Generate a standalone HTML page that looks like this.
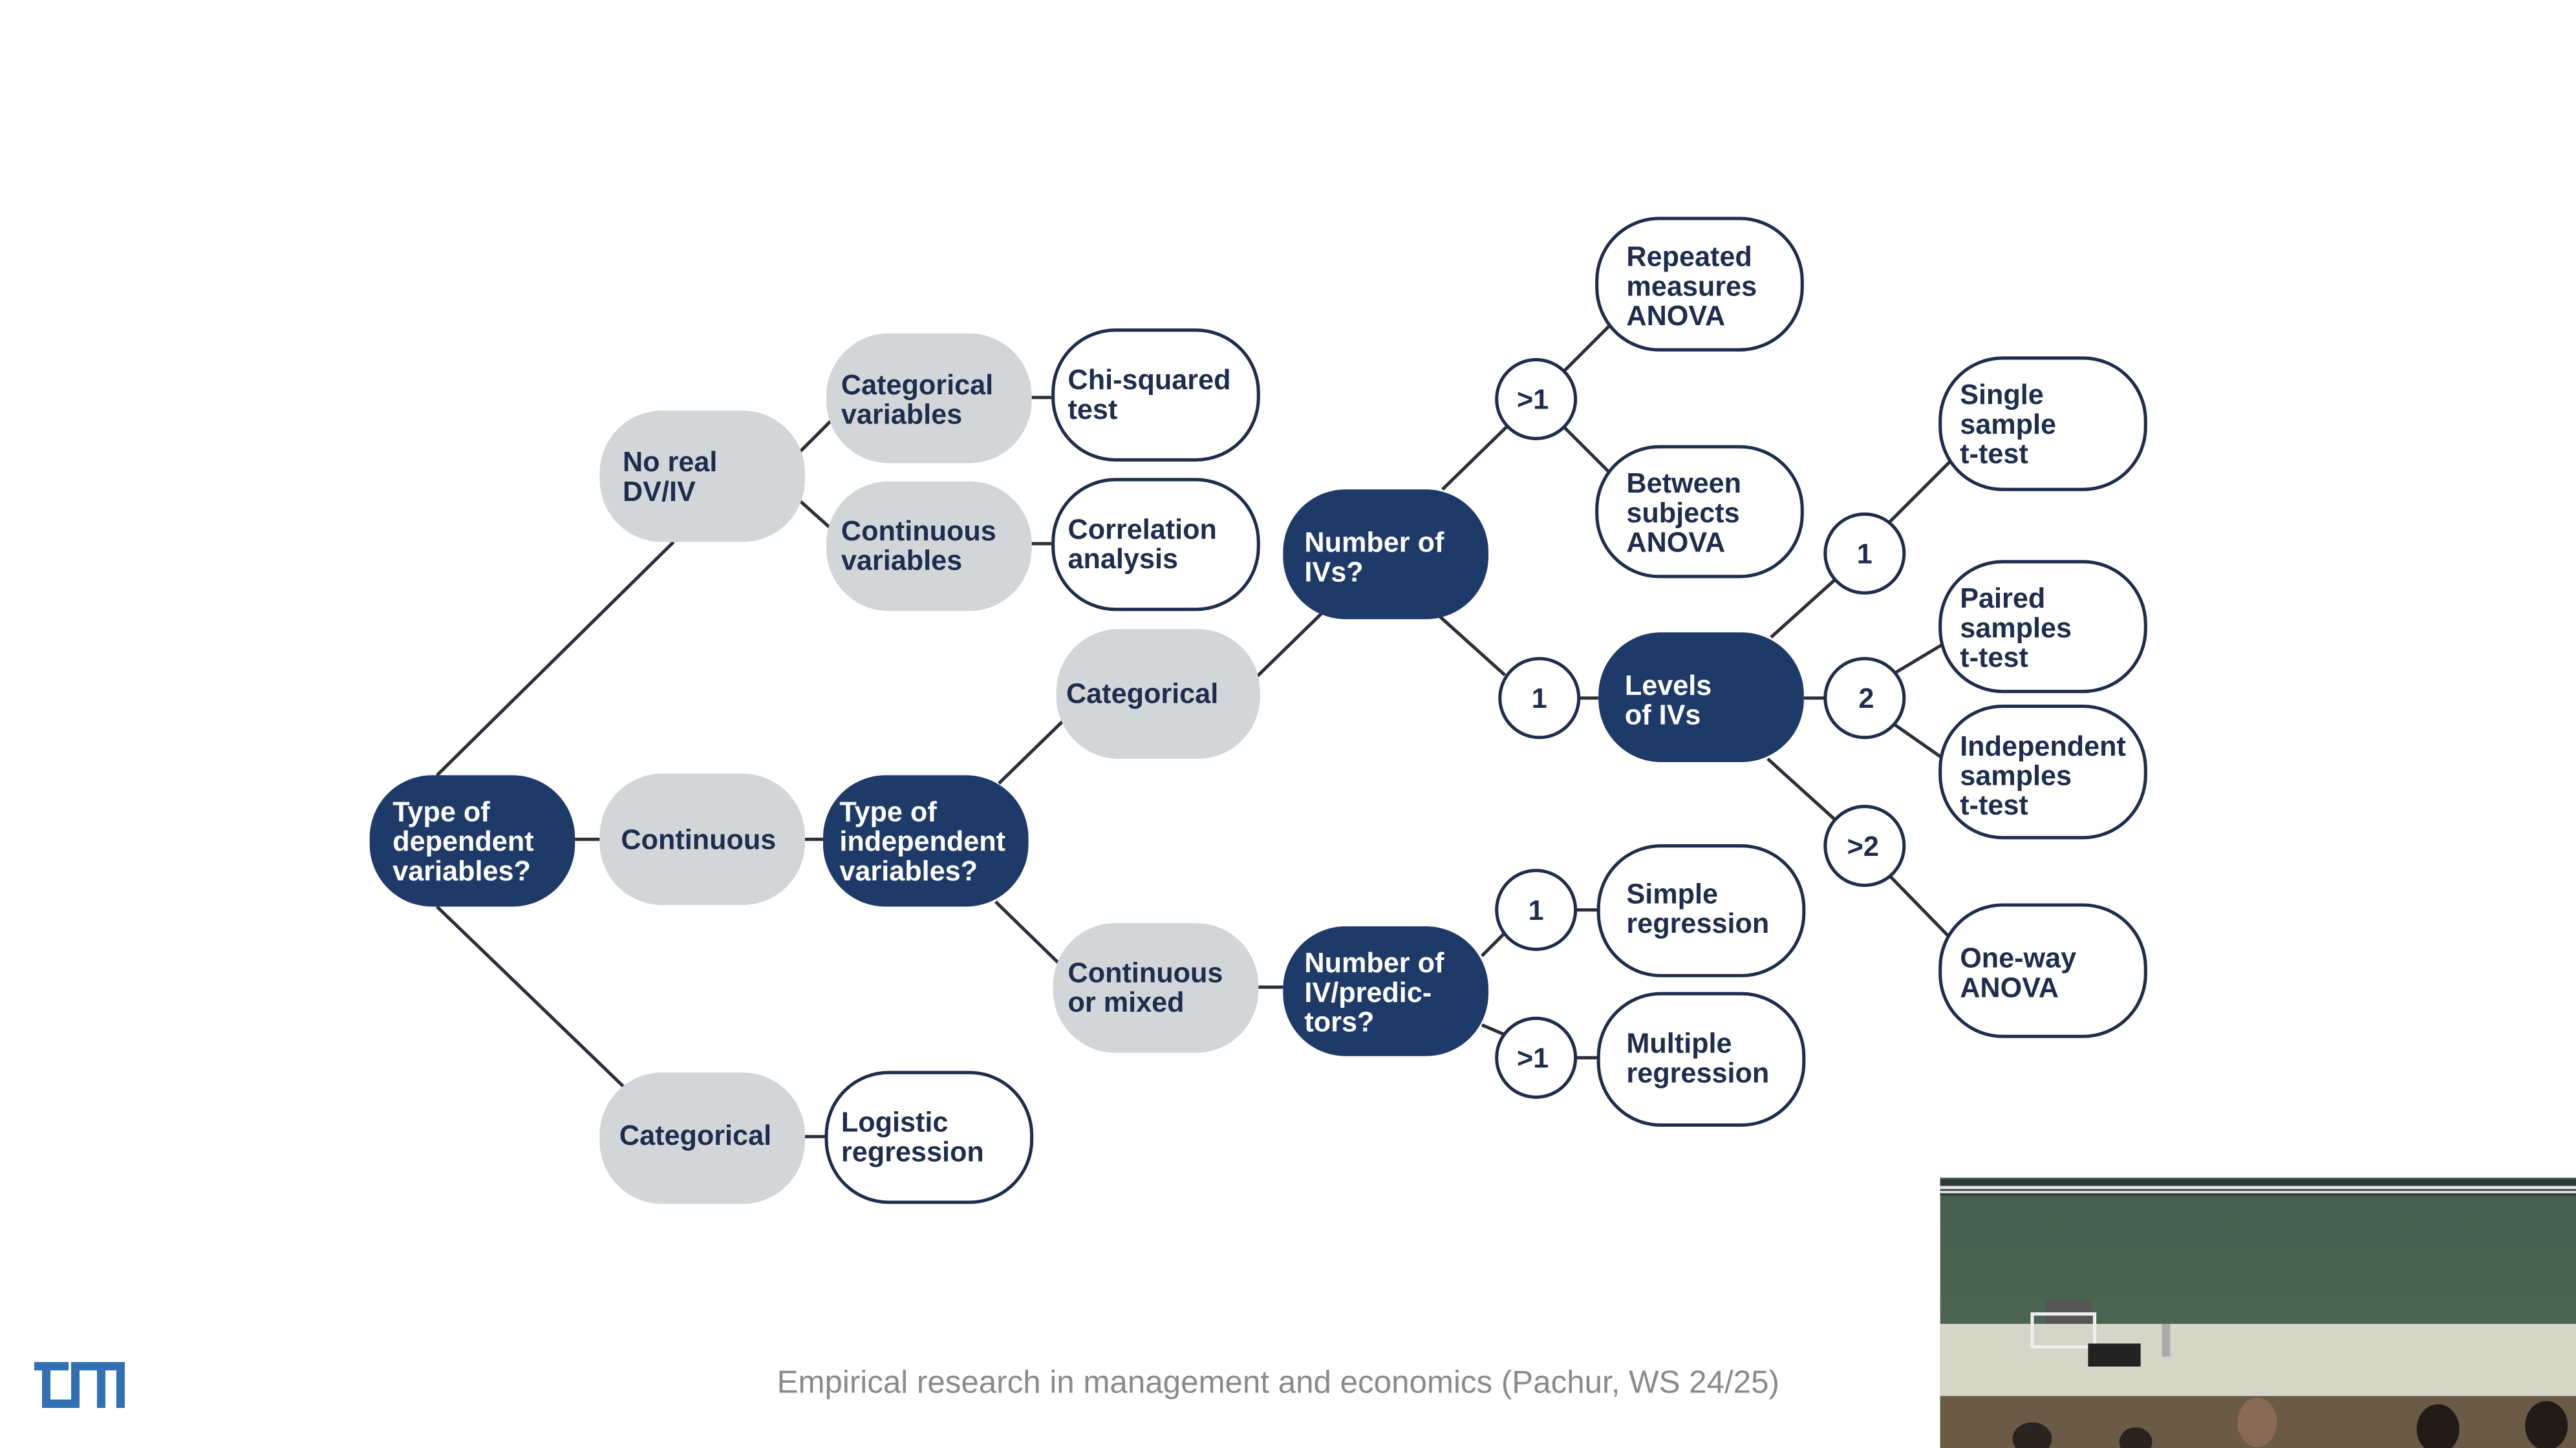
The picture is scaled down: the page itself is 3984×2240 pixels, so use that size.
<!DOCTYPE html>
<html><head><meta charset="utf-8">
<style>
html,body{margin:0;padding:0;background:#fff;}
body{width:3984px;height:2240px;overflow:hidden;position:relative;}
svg{position:absolute;left:0;top:0;}
text{font-family:"Liberation Sans",sans-serif;font-weight:bold;font-size:17px;}
</style></head>
<body>
<svg width="3984" height="2240" viewBox="0 0 1568 881.6">
<defs>
<linearGradient id="g" x1="0" y1="0" x2="0" y2="1">
<stop offset="0" stop-color="#455e4d"/><stop offset="1" stop-color="#4e6a56"/>
</linearGradient>
</defs>
<g stroke="#2b2f3a" stroke-width="2" fill="none">
<line x1="266" y1="472" x2="410" y2="330"/>
<line x1="266" y1="552" x2="380" y2="662"/>
<line x1="350" y1="511" x2="365" y2="511"/>
<line x1="490" y1="511" x2="501" y2="511"/>
<line x1="487" y1="275" x2="506" y2="256"/>
<line x1="487" y1="305" x2="506" y2="322"/>
<line x1="628" y1="242" x2="640" y2="242"/>
<line x1="628" y1="331" x2="640" y2="331"/>
<line x1="488" y1="692" x2="503" y2="692"/>
<line x1="608" y1="477" x2="648" y2="438"/>
<line x1="606" y1="549" x2="644" y2="586"/>
<line x1="765" y1="412" x2="806" y2="372"/>
<line x1="766" y1="601" x2="781" y2="601"/>
<line x1="878" y1="298" x2="918" y2="259"/>
<line x1="876" y1="375" x2="916" y2="411"/>
<line x1="952" y1="226" x2="980" y2="198"/>
<line x1="952" y1="260" x2="980" y2="288"/>
<line x1="961" y1="425" x2="973" y2="425"/>
<line x1="902" y1="582" x2="916" y2="568"/>
<line x1="902" y1="624" x2="916" y2="630"/>
<line x1="959" y1="554" x2="973" y2="554"/>
<line x1="959" y1="644" x2="973" y2="644"/>
<line x1="1078" y1="388" x2="1118" y2="352"/>
<line x1="1098" y1="425" x2="1111" y2="425"/>
<line x1="1076" y1="462" x2="1118" y2="500"/>
<line x1="1150" y1="318" x2="1188" y2="280"/>
<line x1="1153" y1="410" x2="1183" y2="392"/>
<line x1="1153" y1="441" x2="1183" y2="462"/>
<line x1="1150" y1="533" x2="1188" y2="572"/>
</g>
<g fill="#1e3a68">
<rect x="225" y="472" width="125" height="80" rx="38"/>
<rect x="501" y="472" width="125" height="80" rx="38"/>
<rect x="781" y="298" width="125" height="79" rx="38"/>
<rect x="781" y="564" width="125" height="79" rx="38"/>
<rect x="973" y="385" width="125" height="79" rx="38"/>
</g>
<g fill="#d3d6d9">
<rect x="365" y="471" width="125" height="80" rx="38"/>
<rect x="365" y="250" width="125" height="80" rx="38"/>
<rect x="365" y="653" width="125" height="80" rx="38"/>
<rect x="503" y="203" width="125" height="79" rx="38"/>
<rect x="503" y="293" width="125" height="79" rx="38"/>
<rect x="643" y="383" width="124" height="79" rx="38"/>
<rect x="641" y="562" width="125" height="79" rx="38"/>
</g>
<g fill="#fff" stroke="#1e2d4d" stroke-width="2">
<rect x="503" y="653" width="125" height="79" rx="38"/>
<rect x="641" y="201" width="125" height="79" rx="38"/>
<rect x="641" y="292" width="125" height="79" rx="38"/>
<rect x="972" y="133" width="125" height="80" rx="38"/>
<rect x="972" y="272" width="125" height="79" rx="38"/>
<rect x="973" y="515" width="125" height="79" rx="38"/>
<rect x="973" y="605" width="125" height="80" rx="38"/>
<rect x="1181" y="218" width="125" height="80" rx="38"/>
<rect x="1181" y="342" width="125" height="79" rx="38"/>
<rect x="1181" y="430" width="125" height="80" rx="38"/>
<rect x="1181" y="551" width="125" height="80" rx="38"/>
<circle cx="935" cy="243" r="24"/>
<circle cx="937" cy="425" r="24"/>
<circle cx="935" cy="554" r="24"/>
<circle cx="935" cy="644" r="24"/>
<circle cx="1135" cy="337" r="24"/>
<circle cx="1135" cy="425" r="24"/>
<circle cx="1135" cy="515" r="24"/>
</g>
<g fill="#fff">
<text x="239" y="500">Type of</text><text x="239" y="518">dependent</text><text x="239" y="536">variables?</text>
<text x="511" y="500">Type of</text><text x="511" y="518">independent</text><text x="511" y="536">variables?</text>
<text x="794" y="336">Number of</text><text x="794" y="354">IVs?</text>
<text x="794" y="592">Number of</text><text x="794" y="610">IV/predic-</text><text x="794" y="628">tors?</text>
<text x="989" y="423">Levels</text><text x="989" y="441">of IVs</text>
</g>
<g fill="#1e2d4d">
<text x="378" y="517">Continuous</text>
<text x="379" y="287">No real</text><text x="379" y="305">DV/IV</text>
<text x="377" y="697">Categorical</text>
<text x="512" y="240">Categorical</text><text x="512" y="258">variables</text>
<text x="512" y="329">Continuous</text><text x="512" y="347">variables</text>
<text x="649" y="428">Categorical</text>
<text x="650" y="598">Continuous</text><text x="650" y="616">or mixed</text>
<text x="512" y="689">Logistic</text><text x="512" y="707">regression</text>
<text x="650" y="237">Chi-squared</text><text x="650" y="255">test</text>
<text x="650" y="328">Correlation</text><text x="650" y="346">analysis</text>
<text x="990" y="162">Repeated</text><text x="990" y="180">measures</text><text x="990" y="198">ANOVA</text>
<text x="990" y="300">Between</text><text x="990" y="318">subjects</text><text x="990" y="336">ANOVA</text>
<text x="990" y="550">Simple</text><text x="990" y="568">regression</text>
<text x="990" y="641">Multiple</text><text x="990" y="659">regression</text>
<text x="1193" y="246">Single</text><text x="1193" y="264">sample</text><text x="1193" y="282">t-test</text>
<text x="1193" y="370">Paired</text><text x="1193" y="388">samples</text><text x="1193" y="406">t-test</text>
<text x="1193" y="460">Independent</text><text x="1193" y="478">samples</text><text x="1193" y="496">t-test</text>
<text x="1193" y="589">One-way</text><text x="1193" y="607">ANOVA</text>
<g text-anchor="middle" style="font-size:15px">
<text x="933" y="249">&gt;1</text>
<text x="937" y="431">1</text>
<text x="935" y="560">1</text>
<text x="933" y="650">&gt;1</text>
<text x="1135" y="343">1</text>
<text x="1136" y="431">2</text>
<text x="1134" y="521">&gt;2</text>
</g>
</g>
<text x="778" y="848" text-anchor="middle" style="font-family:'Liberation Sans',sans-serif;font-weight:normal;font-size:19.4px" fill="#8a8a8a">Empirical research in management and economics (Pachur, WS 24/25)</text>
<rect x="1181" y="717" width="387" height="165" fill="url(#g)"/>
<rect x="1181" y="718" width="387" height="10" fill="#2f3a37"/>
<rect x="1181" y="722" width="387" height="2" fill="#dfe3e0"/>
<rect x="1181" y="725" width="387" height="1.5" fill="#dfe3e0"/>
<rect x="1181" y="806" width="387" height="44" fill="#d7d5c8"/>
<rect x="1181" y="850" width="387" height="32" fill="#6b5a45"/>
<rect x="1245" y="792" width="28" height="14" fill="#555"/>
<rect x="1237" y="800" width="38" height="20" fill="none" stroke="#eee" stroke-width="2"/>
<rect x="1271" y="818" width="32" height="14" fill="#222"/>
<rect x="1316" y="806" width="5" height="20" fill="#aaa"/>
<ellipse cx="1237" cy="876" rx="12" ry="10" fill="#2a2420"/>
<ellipse cx="1300" cy="878" rx="10" ry="9" fill="#2a2420"/>
<ellipse cx="1374" cy="866" rx="12" ry="15" fill="#8a6a55"/>
<ellipse cx="1484" cy="870" rx="13" ry="15" fill="#221c18"/>
<ellipse cx="1550" cy="868" rx="13" ry="15" fill="#221c18"/>
</svg>
<svg width="3984" height="2240" viewBox="0 0 3984 2240">
<g fill="#3070b3">
<rect x="53" y="2107" width="53" height="13"/>
<rect x="65" y="2107" width="13" height="71"/>
<rect x="65" y="2165" width="58" height="13"/>
<rect x="110" y="2118" width="13" height="60"/>
<rect x="110" y="2107" width="83" height="13"/>
<rect x="150" y="2107" width="13" height="71"/>
<rect x="180" y="2107" width="13" height="71"/>
</g>
</svg>
</body></html>
